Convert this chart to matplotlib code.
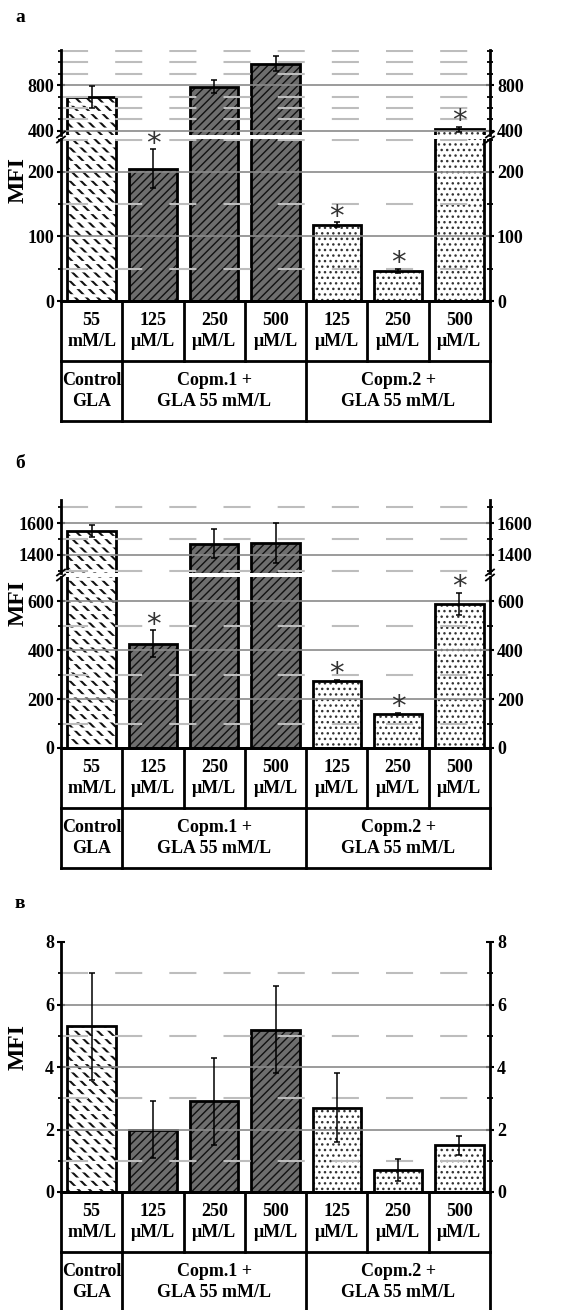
import matplotlib
matplotlib.use("Agg")
import matplotlib.pyplot as plt
from matplotlib.lines import Line2D
from matplotlib.ticker import MultipleLocator
import numpy as np

plt.rcParams['font.family'] = ['Liberation Serif', 'DejaVu Serif']
plt.rcParams['font.weight'] = 'bold'
plt.rcParams['hatch.linewidth'] = 1.0

# ---------------- data ----------------
conc_labels = ["55\nmM/L", "125\nμM/L", "250\nμM/L", "500\nμM/L",
               "125\nμM/L", "250\nμM/L", "500\nμM/L"]
group_labels = ["Control\nGLA", "Copm.1 +\nGLA 55 mM/L", "Copm.2 +\nGLA 55 mM/L"]
group_spans = [(0, 0), (1, 3), (4, 6)]
bar_kind = ["ctrl", "c1", "c1", "c1", "c2", "c2", "c2"]

a_vals = [695, 205, 785, 985, 118, 47, 415]
a_err = [95, 30, 55, 65, 4, 3, 20]
a_sig = [False, True, False, False, True, True, True]

b_vals = [1550, 425, 1470, 1475, 273, 139, 588]
b_err = [40, 55, 90, 125, 5, 5, 45]
b_sig = [False, True, False, False, True, True, True]

v_vals = [5.3, 2.0, 2.9, 5.2, 2.7, 0.7, 1.5]
v_err = [1.7, 0.9, 1.4, 1.4, 1.1, 0.35, 0.3]
v_sig = [False] * 7

W, H = 576, 1310
fig = plt.figure(figsize=(W / 100, H / 100), dpi=100)

X0, X1 = 61, 490


def rect(top, bottom, x0=X0, x1=X1):
    return [x0 / W, 1 - bottom / H, (x1 - x0) / W, (bottom - top) / H]


x = np.arange(7)
BW = 0.79


def set_hlw(patches, lw):
    for p in patches:
        try:
            p.set_hatch_linewidth(lw)
        except Exception:
            pass


def draw_bars(ax, vals, errs):
    for i, (v, e, k) in enumerate(zip(vals, errs, bar_kind)):
        if k == "ctrl":
            with plt.rc_context({'hatch.linewidth': 1.5}):
                b1 = ax.bar(x[i], v, BW, color="white", edgecolor="#111111", hatch="\\\\\\", lw=0, zorder=1)
            set_hlw(b1, 1.5)
            with plt.rc_context({'hatch.linewidth': 2.3}):
                b2 = ax.bar(x[i], v, BW, color="none", edgecolor="white", hatch="--", lw=0, zorder=1.1)
            set_hlw(b2, 2.3)
        elif k == "c1":
            ax.bar(x[i], v, BW, color="#6e6e6e", edgecolor="#111111", hatch="////", lw=0, zorder=1)
        else:
            ax.bar(x[i], v, BW, color="white", edgecolor="#333333", hatch="...", lw=0, zorder=1)
        ax.bar(x[i], v, BW, color="none", edgecolor="black", lw=2.0, zorder=1.2)
    ax.errorbar(x, vals, yerr=errs, fmt="none", ecolor="black", elinewidth=1.1,
                capsize=2, capthick=1.1, zorder=4)


def style_axis(ax, ylim, major, minor, top_spine=False, bottom_spine=False):
    ax.set_xlim(-0.5, 6.5)
    ax.set_ylim(*ylim)
    ax.yaxis.set_major_locator(MultipleLocator(major))
    ax.yaxis.set_minor_locator(MultipleLocator(minor))
    ax.set_xticks([])
    for s in ["left", "right"]:
        ax.spines[s].set_linewidth(2.0)
    ax.spines["top"].set_visible(top_spine)
    ax.spines["bottom"].set_visible(bottom_spine)
    ax.spines["bottom"].set_linewidth(2.0)
    ax.tick_params(axis="y", which="both", left=True, right=True, labelleft=True,
                   labelright=True, direction="inout", labelsize=13, pad=2)
    ax.tick_params(axis="y", which="major", length=6, width=1.5)
    ax.tick_params(axis="y", which="minor", length=4, width=1.3)
    lo, hi = ylim
    majors = [v for v in ax.yaxis.get_majorticklocs() if lo < v < hi]
    minors = [v for v in ax.yaxis.get_minorticklocs()
              if lo < v < hi and all(abs(v - m) > 1e-9 for m in majors)]
    for v in majors:
        ax.axhline(v, color="#8a8a8a", lw=1.2, zorder=2)
    for v in minors:
        ax.axhline(v, color="#bdbdbd", lw=1.5, linestyle=(0, (13, 13)), zorder=2)
    for lab in ax.get_yticklabels():
        lab.set_fontweight("bold")


def add_star(ax, xi, top):
    ax.annotate("*", (xi, top), xytext=(0, -6),
                textcoords="offset points", ha="center", va="bottom",
                fontsize=21, color="#333333", family="DejaVu Sans",
                fontweight="normal", annotation_clip=False, zorder=5)


def break_marks(ax_top, ax_bot):
    y_mid = (ax_top.get_position().y0 + ax_bot.get_position().y1) / 2
    for xf in (X0 / W, X1 / W):
        for dy in (-2.5, 2.5):
            fig.add_artist(Line2D([xf - 4 / W, xf + 4 / W],
                                  [y_mid + (dy - 3) / H, y_mid + (dy + 3) / H],
                                  color="black", lw=1.3))


def table(top, bottom):
    t = fig.add_axes(rect(top, bottom))
    t.set_xlim(-0.5, 6.5)
    t.set_ylim(0, 2)
    t.axis("off")
    kw = dict(color="black", lw=2.0, clip_on=False, solid_capstyle="projecting")
    t.plot([-0.5, 6.5], [2, 2], **kw)
    t.plot([-0.5, 6.5], [1, 1], **kw)
    t.plot([-0.5, 6.5], [0, 0], **kw)
    for xb in np.arange(-0.5, 7.0, 1.0):
        t.plot([xb, xb], [1, 2], **kw)
    for (s, e) in group_spans:
        t.plot([s - 0.5, s - 0.5], [0, 1], **kw)
    t.plot([6.5, 6.5], [0, 1], **kw)
    for i, lab in enumerate(conc_labels):
        t.text(x[i], 1.5, lab, ha="center", va="center", fontsize=13,
               fontweight="bold", linespacing=1.3)
    for (s, e), lab in zip(group_spans, group_labels):
        t.text((s + e) / 2, 0.5, lab, ha="center", va="center", fontsize=13,
               fontweight="bold", linespacing=1.3)
    return t


def panel_letter(txt, y):
    fig.text(15 / W, 1 - y / H, txt, fontsize=14, fontweight="bold", va="center", ha="left")


def ylabel(yc):
    fig.text(18 / W, 1 - yc / H, "MFI", rotation=90, fontsize=17, fontweight="bold",
             ha="center", va="center")


def broken_panel(letter, ly, top_px, brk_top, brk_bot, bot_px, ylim_u, ylim_l,
                 maj_u, min_u, maj_l, min_l, vals, errs, sig, ylab_y, table_bottom):
    panel_letter(letter, ly)
    au = fig.add_axes(rect(top_px, brk_top))
    al = fig.add_axes(rect(brk_bot, bot_px))
    for ax in (au, al):
        draw_bars(ax, vals, errs)
    style_axis(au, ylim_u, maj_u, min_u)
    style_axis(al, ylim_l, maj_l, min_l, bottom_spine=True)
    for i in range(7):
        if sig[i]:
            top = vals[i] + errs[i]
            add_star(au if top > ylim_l[1] else al, x[i], top)
    break_marks(au, al)
    ylabel(ylab_y)
    table(bot_px, table_bottom)


# ---------------- panel а ----------------
broken_panel("а", 18, 50, 135, 139, 301, (365, 1105), (0, 251),
             400, 100, 100, 50, a_vals, a_err, a_sig, 180, 421)

# ---------------- panel б ----------------
broken_panel("б", 463, 500, 573, 577, 748, (1287, 1744), (0, 698),
             200, 100, 200, 100, b_vals, b_err, b_sig, 603, 868)

# ---------------- panel в ----------------
panel_letter("в", 903)
vx = fig.add_axes(rect(942, 1192))
draw_bars(vx, v_vals, v_err)
style_axis(vx, (0, 8), 2, 1, bottom_spine=True)
for i in range(7):
    if v_sig[i]:
        add_star(vx, x[i], v_vals[i] + v_err[i])
ylabel(1047)
table(1192, 1312)

fig.savefig("out.png", dpi=100)
